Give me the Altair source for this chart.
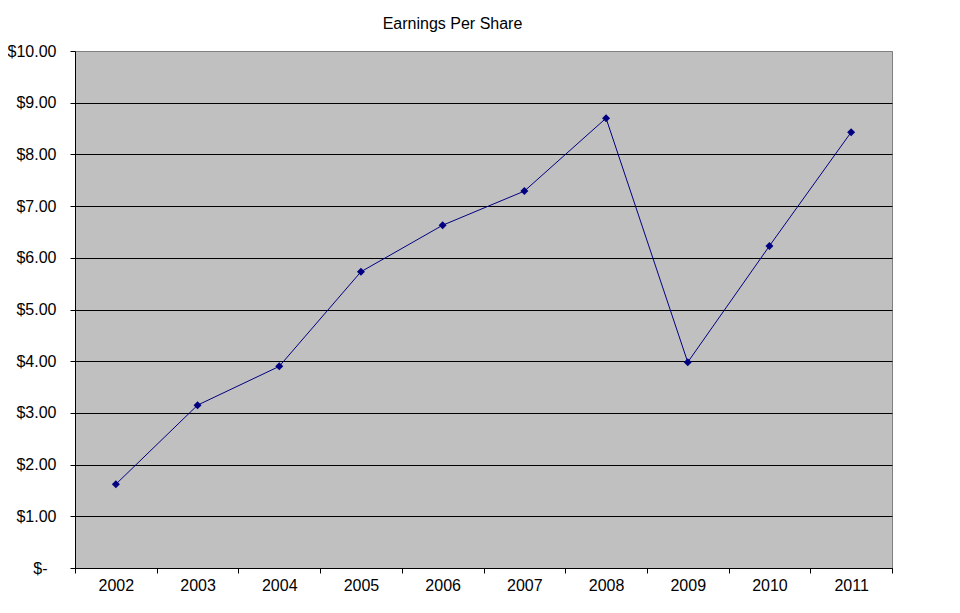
import altair as alt
import pandas as pd

years = ["2002", "2003", "2004", "2005", "2006", "2007", "2008", "2009", "2010", "2011"]
eps = [1.62, 3.15, 3.90, 5.73, 6.63, 7.29, 8.70, 3.98, 6.23, 8.43]

df = pd.DataFrame({"Year": years, "EPS": eps})

FONT = "Liberation Sans"
NAVY = "#000080"

x_enc = alt.X(
    "Year:N",
    sort=years,
    bandPosition=0.5,
    scale=alt.Scale(type="band", paddingInner=0, paddingOuter=0),
    axis=alt.Axis(
        title=None,
        labelAngle=0,
        labelFont=FONT,
        labelFontSize=16,
        labelColor="black",
        labelPadding=4,
        tickBand="extent",
        tickSize=5,
        tickColor="black",
        domainColor="black",
        grid=False,
    ),
)

y_enc = alt.Y(
    "EPS:Q",
    scale=alt.Scale(domain=[0, 10], nice=False, zero=True),
    axis=alt.Axis(
        title=None,
        values=list(range(0, 11)),
        labelExpr="datum.value === 0 ? '$-' : '$' + format(datum.value, '.2f')",
        labelFont=FONT,
        labelFontSize=16,
        labelColor="black",
        labelPadding={"condition": {"test": "datum.value === 0", "value": 23}, "value": 14},
        tickSize=5,
        tickColor="black",
        domainColor="black",
        grid=True,
        gridColor={"condition": {"test": "datum.value === 10", "value": "#808080"}, "value": "black"},
        gridWidth=1,
        gridOpacity=1,
    ),
)

base = alt.Chart(df).encode(x=x_enc, y=y_enc)

line = base.mark_line(color=NAVY, strokeWidth=1)
pts = base.mark_point(shape="diamond", filled=True, color=NAVY, size=64, opacity=1)

chart = (
    alt.layer(line, pts)
    .properties(
        width=817,
        height=517,
        autosize=alt.AutoSizeParams(type="none"),
        padding={"left": 67, "top": 43, "right": 60, "bottom": 37},
        view=alt.ViewBackground(fill="#C0C0C0", stroke="#808080", strokeWidth=1),
        title=alt.TitleParams(
            "Earnings Per Share",
            font=FONT,
            fontSize=16,
            fontWeight="normal",
            color="black",
            anchor="middle",
            frame="group",
            dx=-31,
            offset=11,
        ),
    )
    .configure(background="white")
)

chart.save("out.html", embed_options={"renderer": "svg", "actions": False})
